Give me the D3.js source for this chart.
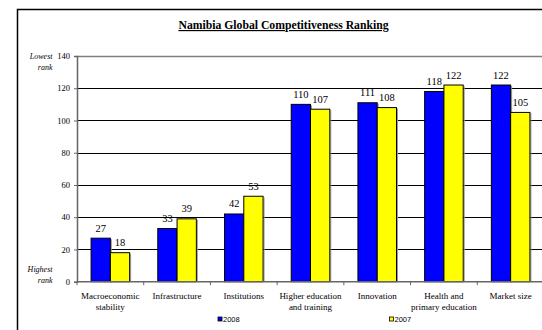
<!DOCTYPE html>
<html>
<head>
<meta charset="utf-8">
<script src="https://cdn.jsdelivr.net/npm/d3@7"></script>
<style>
  body { margin: 0; background: #fff; }
  svg { display: block; }
  .serif { font-family: "Liberation Serif", "Times New Roman", Times, serif; }
  .sans { font-family: "Liberation Sans", Arial, Helvetica, sans-serif; }
</style>
</head>
<body>
<div id="chart"></div>
<script>
// Data
const categories = [
  ["Macroeconomic", "stability"],
  ["Infrastructure"],
  ["Institutions"],
  ["Higher education", "and training"],
  ["Innovation"],
  ["Health and", "primary education"],
  ["Market size"]
];
const seriesNames = ["2008", "2007"];
const values2008 = [27, 33, 42, 110, 111, 118, 122];
const values2007 = [18, 39, 53, 107, 108, 122, 105];
const yTicks = [0, 20, 40, 60, 80, 100, 120, 140];
const seriesColors = ["#0000ff", "#ffff00"];

const width = 542;
const height = 330;

const svg = d3.select("#chart")
  .append("svg")
  .attr("width", width)
  .attr("height", height);

// outer frame (runs past the right and bottom edges like the reference)
svg.append("rect")
  .attr("x", 17.5)
  .attr("y", 9.5)
  .attr("width", 560)
  .attr("height", 340)
  .attr("fill", "none")
  .attr("stroke", "#000")
  .attr("stroke-width", 1.5);

// title
svg.append("text")
  .attr("class", "serif")
  .attr("x", 283.5)
  .attr("y", 29)
  .attr("text-anchor", "middle")
  .attr("font-size", 11.7)
  .attr("font-weight", "bold")
  .attr("text-decoration", "underline")
  .text("Namibia Global Competitiveness Ranking");

const plotLeft = 77;
const plotRight = 544;
const plotTop = 56;
const plotBottom = 281.7;

const keys = categories.map((c, i) => i);

const x0 = d3.scaleBand()
  .domain(keys)
  .range([plotLeft, plotRight])
  .paddingInner(0);

const x1 = d3.scaleBand()
  .domain(seriesNames)
  .range([0, x0.bandwidth()])
  .paddingInner(0)
  .paddingOuter(0.73);

const y = d3.scaleLinear()
  .domain([0, 140])
  .range([plotBottom, plotTop]);

// gridlines
svg.append("g")
  .selectAll("line")
  .data(yTicks.filter(t => t > 0))
  .enter()
  .append("line")
  .attr("x1", plotLeft)
  .attr("x2", plotRight)
  .attr("y1", d => Math.round(y(d)) + 0.5)
  .attr("y2", d => Math.round(y(d)) + 0.5)
  .attr("stroke", d => d === 140 ? "#808080" : "#000")
  .attr("stroke-width", d => d === 140 ? 1.5 : 1);

// bars
const rows = keys.map(i => ({ i, vals: [values2008[i], values2007[i]] }));

const groups = svg.append("g")
  .selectAll("g")
  .data(rows)
  .enter()
  .append("g")
  .attr("transform", d => `translate(${x0(d.i)},0)`);

// faint shadow on the right edge of each bar
groups.selectAll("line.shadow")
  .data(d => d.vals.map((v, k) => ({ key: seriesNames[k], v, k })))
  .enter()
  .append("line")
  .attr("class", "shadow")
  .attr("x1", d => x1(d.key) + x1.bandwidth() + 1)
  .attr("x2", d => x1(d.key) + x1.bandwidth() + 1)
  .attr("y1", d => y(d.v) + 1)
  .attr("y2", y(0))
  .attr("stroke", "#999")
  .attr("stroke-width", 1);

groups.selectAll("rect")
  .data(d => d.vals.map((v, k) => ({ key: seriesNames[k], v, k })))
  .enter()
  .append("rect")
  .attr("x", d => x1(d.key))
  .attr("y", d => y(d.v))
  .attr("width", x1.bandwidth())
  .attr("height", d => y(0) - y(d.v))
  .attr("fill", d => seriesColors[d.k])
  .attr("stroke", "#000")
  .attr("stroke-width", 1);

groups.selectAll("text")
  .data(d => d.vals.map((v, k) => ({ key: seriesNames[k], v, k })))
  .enter()
  .append("text")
  .attr("class", "serif")
  .attr("x", d => x1(d.key) + x1.bandwidth() / 2)
  .attr("y", d => y(d.v) - 6.5)
  .attr("text-anchor", "middle")
  .attr("font-size", 10.5)
  .attr("fill", "#000")
  .text(d => d.v);

// y axis
const yAxis = d3.axisLeft(y)
  .tickValues(yTicks)
  .tickSize(3)
  .tickPadding(4);

const yg = svg.append("g")
  .attr("transform", `translate(${plotLeft},0)`)
  .call(yAxis);
yg.attr("font-family", null).attr("font-size", null);
yg.select(".domain").attr("stroke", "#666").attr("stroke-width", 1.5);
yg.selectAll(".tick line").attr("stroke", "#666");
yg.selectAll(".tick text")
  .attr("class", "serif")
  .attr("font-size", 8.5)
  .attr("fill", "#000");

// x axis line with ticks at band edges
svg.append("line")
  .attr("x1", plotLeft)
  .attr("x2", plotRight)
  .attr("y1", plotBottom)
  .attr("y2", plotBottom)
  .attr("stroke", "#666")
  .attr("stroke-width", 1.5);

svg.append("g")
  .selectAll("line")
  .data(keys)
  .enter()
  .append("line")
  .attr("x1", d => x0(d))
  .attr("x2", d => x0(d))
  .attr("y1", plotBottom)
  .attr("y2", plotBottom + 3.5)
  .attr("stroke", "#666");

// category labels
const catLabels = svg.append("g")
  .selectAll("text")
  .data(keys)
  .enter()
  .append("text")
  .attr("class", "serif")
  .attr("x", d => x0(d) + x0.bandwidth() / 2)
  .attr("y", 298.5)
  .attr("text-anchor", "middle")
  .attr("font-size", 9)
  .attr("fill", "#000");

catLabels.selectAll("tspan")
  .data(d => categories[d].map((line, j) => ({ line, j, d })))
  .enter()
  .append("tspan")
  .attr("x", d => x0(d.d) + x0.bandwidth() / 2)
  .attr("dy", d => d.j === 0 ? 0 : 11)
  .text(d => d.line);

// axis end notes
const notes = [
  { lines: ["Lowest", "rank"], y: 58.5 },
  { lines: ["Highest", "rank"], y: 272 }
];
notes.forEach(n => {
  const t = svg.append("text")
    .attr("class", "serif")
    .attr("font-style", "italic")
    .attr("font-size", 8)
    .attr("text-anchor", "end")
    .attr("y", n.y);
  n.lines.forEach((l, j) => {
    t.append("tspan")
      .attr("x", 52.5)
      .attr("dy", j === 0 ? 0 : 11)
      .text(l);
  });
});

// legend
const legendX = [218, 389.5];
const legend = svg.append("g")
  .selectAll("g")
  .data(seriesNames)
  .enter()
  .append("g")
  .attr("transform", (d, i) => `translate(${legendX[i]},317)`);

legend.append("rect")
  .attr("width", 4)
  .attr("height", 4)
  .attr("fill", (d, i) => seriesColors[i])
  .attr("stroke", "#000")
  .attr("stroke-width", 0.8);

legend.append("text")
  .attr("class", "sans")
  .attr("x", 5)
  .attr("y", 4.8)
  .attr("font-size", 7.5)
  .attr("fill", "#000")
  .text(d => d);
</script>
</body>
</html>
